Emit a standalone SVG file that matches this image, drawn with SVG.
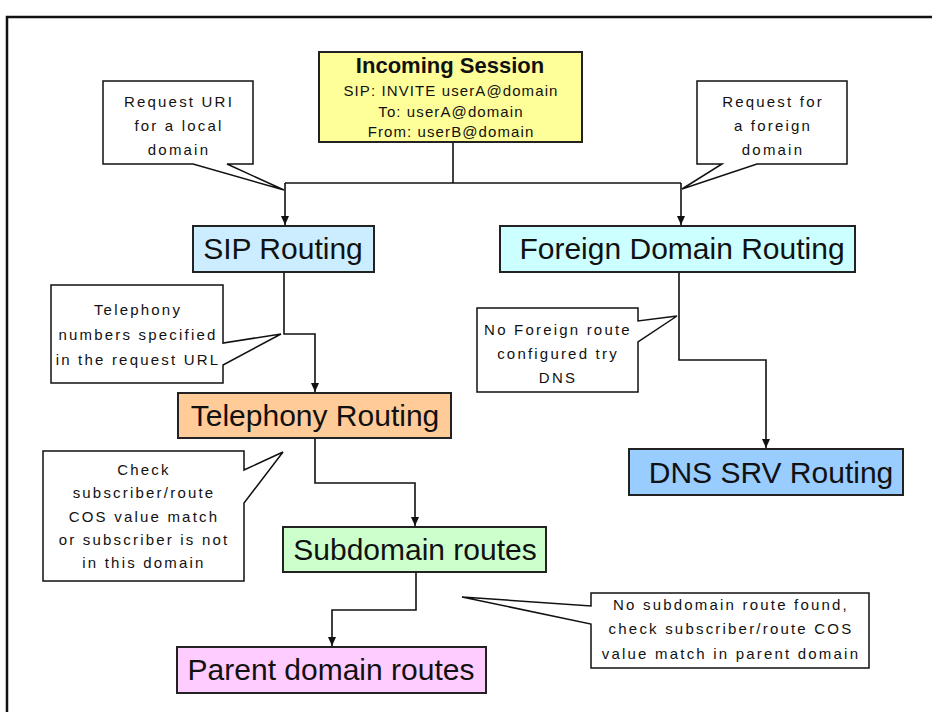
<svg xmlns="http://www.w3.org/2000/svg" width="932" height="712" viewBox="0 0 932 712">
<style>
.node{stroke:#222;stroke-width:2}
.lbl{font-family:"Liberation Sans",Arial,sans-serif;font-size:30px;fill:#111;text-anchor:middle}
.call{fill:#fff;stroke:#111;stroke-width:1.5;stroke-linejoin:miter}
.ct{font-family:"Liberation Sans",Arial,sans-serif;font-size:15px;fill:#111;text-anchor:middle;letter-spacing:2.2px}
.st{font-family:"Liberation Sans",Arial,sans-serif;font-size:15px;fill:#111;text-anchor:middle;letter-spacing:1.1px}
.conn{fill:none;stroke:#111;stroke-width:1.6}
</style>
<defs>
<marker id="arr" markerUnits="userSpaceOnUse" markerWidth="10" markerHeight="10" refX="9" refY="4" orient="auto">
<path d="M0,0 L9,4 L0,8 Z" fill="#111"/>
</marker>
</defs>
<rect x="0" y="0" width="932" height="712" fill="#fff"/>
<path d="M7,712 V17 H932" fill="none" stroke="#111" stroke-width="2.5"/>

<g id="connectors">
<path class="conn" d="M453,142 V183"/>
<path class="conn" d="M285,183 H681"/>
<path class="conn" d="M285,183 V225" marker-end="url(#arr)"/>
<path class="conn" d="M681,183 V225" marker-end="url(#arr)"/>
<path class="conn" d="M284,272 V334 H315 V392" marker-end="url(#arr)"/>
<path class="conn" d="M315,438 V483 H415 V526" marker-end="url(#arr)"/>
<path class="conn" d="M416,572 V610 H332 V646" marker-end="url(#arr)"/>
<path class="conn" d="M679,272 V360 H766 V448" marker-end="url(#arr)"/>
</g>

<g id="incoming-session">
<rect class="node" x="319" y="52" width="263" height="90" fill="#FFFF99"/>
<text x="450" y="73" font-family="Liberation Sans,Arial,sans-serif" font-size="22" font-weight="bold" fill="#111" text-anchor="middle">Incoming Session</text>
<text class="st" x="451" y="96">SIP: INVITE userA@domain</text>
<text class="st" x="451" y="117">To: userA@domain</text>
<text class="st" x="451" y="137">From: userB@domain</text>
</g>

<g id="callout-local">
<path class="call" d="M103,81 H253 V164 H227 L284,190 L193,164 H103 Z"/>
<text class="ct" x="179" y="107">Request URI</text>
<text class="ct" x="179" y="131">for a local</text>
<text class="ct" x="179" y="155">domain</text>
</g>

<g id="callout-foreign">
<path class="call" d="M697,81 H847 V164 H757 L682,189 L722,164 H697 Z"/>
<text class="ct" x="773" y="107">Request for</text>
<text class="ct" x="773" y="131">a foreign</text>
<text class="ct" x="773" y="155">domain</text>
</g>

<g id="sip-routing">
<rect class="node" x="193" y="226" width="181" height="46" fill="#CCECFF"/>
<text class="lbl" x="283" y="259">SIP Routing</text>
</g>

<g id="foreign-domain-routing">
<rect class="node" x="500" y="226" width="355" height="46" fill="#CCFFFF"/>
<text class="lbl" x="682" y="259">Foreign Domain Routing</text>
</g>

<g id="callout-telephony">
<path class="call" d="M51,285 H223 V343 L281,334 L223,365 V383 H51 Z"/>
<text class="ct" x="138" y="315">Telephony</text>
<text class="ct" x="138" y="340">numbers specified</text>
<text class="ct" x="138" y="365">in the request URL</text>
</g>

<g id="callout-dns">
<path class="call" d="M477,308 H638 V321 L677,316 L638,342 V392 H477 Z"/>
<text class="ct" x="558" y="335">No Foreign route</text>
<text class="ct" x="558" y="359">configured try</text>
<text class="ct" x="558" y="383">DNS</text>
</g>

<g id="telephony-routing">
<rect class="node" x="178" y="393" width="273" height="45" fill="#FFCC99"/>
<text class="lbl" x="315" y="426">Telephony Routing</text>
</g>

<g id="dns-srv-routing">
<rect class="node" x="629" y="449" width="274" height="46" fill="#99CCFF"/>
<text class="lbl" x="771" y="483">DNS SRV Routing</text>
</g>

<g id="callout-cos">
<path class="call" d="M43,451 H244 V470 L283,452 L244,503 V581 H43 Z"/>
<text class="ct" x="144" y="475">Check</text>
<text class="ct" x="144" y="498">subscriber/route</text>
<text class="ct" x="144" y="522">COS value match</text>
<text class="ct" x="144" y="545">or subscriber is not</text>
<text class="ct" x="144" y="568">in this domain</text>
</g>

<g id="subdomain-routes">
<rect class="node" x="283" y="527" width="263" height="45" fill="#CCFFCC"/>
<text class="lbl" x="415" y="560">Subdomain routes</text>
</g>

<g id="callout-parent">
<path class="call" d="M591,593 H869 V668 H591 V624 L462,597 L591,606 Z"/>
<text class="ct" x="731" y="610">No subdomain route found,</text>
<text class="ct" x="731" y="634">check subscriber/route COS</text>
<text class="ct" x="731" y="659">value match in parent domain</text>
</g>

<g id="parent-domain-routes">
<rect class="node" x="177" y="647" width="309" height="46" fill="#FFCCFF"/>
<text class="lbl" x="331" y="680">Parent domain routes</text>
</g>
</svg>
